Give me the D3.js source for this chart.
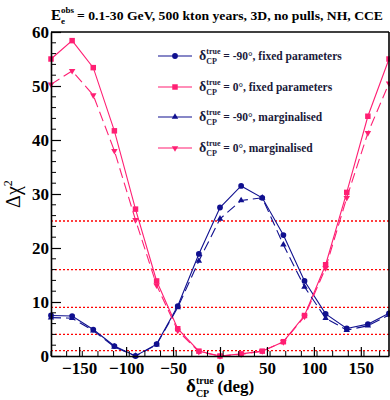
<!DOCTYPE html>
<html><head><meta charset="utf-8">
<script src="https://cdn.jsdelivr.net/npm/d3@7"></script>
<style>body{margin:0;background:#fff}svg{display:block}</style>
</head><body>
<svg id="c" width="390" height="400"></svg>
<script>
// ---- data ----
const deltaCP = [-180,-157.5,-135,-112.5,-90,-67.5,-45,-22.5,0,22.5,45,67.5,90,112.5,135,157.5,180];
const fixedM90 = [7.5,7.4,4.9,1.85,0,2.2,9.25,18.9,27.5,31.5,29.3,22.4,13.9,7.8,5.1,5.9,7.9];
const fixed0   = [55.0,58.4,53.4,41.7,27.2,13.9,5.05,0.9,0,0.4,0.9,2.65,7.5,16.9,30.3,44.4,55.0];
const margM90  = [7.1,7.0,4.7,1.7,0,2.1,9.0,17.6,25.4,28.8,29.3,20.6,12.8,7.0,4.8,5.6,7.6];
const marg0    = [50.3,52.8,48.3,38.0,25.2,13.1,4.7,0.8,0,0.3,0.9,2.6,7.3,16.3,29.3,41.3,50.5];
const sigmaLevels = [1,4,9,16,25];
const xTicks = [-150,-100,-50,0,50,100,150];
const yTicks = [0,10,20,30,40,50,60];
const legendLabels = ["= -90\u00B0, fixed parameters","= 0\u00B0, fixed parameters","= -90\u00B0, marginalised","= 0\u00B0, marginalised"];

const BLUE = "#10108f", PINK = "#ff1f73";
const series = [
  {vals: fixedM90, color: BLUE, dash: null, sym: d3.symbolCircle, size: 26, rot: 0},
  {vals: fixed0,   color: PINK, dash: null, sym: d3.symbolSquare, size: 30, rot: 0},
  {vals: margM90,  color: BLUE, dash: "10,5", sym: d3.symbolTriangle, size: 18, rot: 0},
  {vals: marg0,    color: PINK, dash: "10,5", sym: d3.symbolTriangle, size: 18, rot: 180}
];

const svg = d3.select("#c");
const L = 51, R = 389, T = 32, B = 356;
const x = d3.scaleLinear().domain([-180,180]).range([L,R]);
const y = d3.scaleLinear().domain([0,60]).range([B,T]);
const serif = "'Liberation Serif','Times New Roman',serif";

// sigma lines
svg.append("g").selectAll("line").data(sigmaLevels).join("line")
  .attr("x1", L).attr("x2", R).attr("y1", d=>y(d)).attr("y2", d=>y(d))
  .attr("stroke", "#ff0000").attr("stroke-width", 1.3).attr("stroke-dasharray", "2,2");

// series
const line = d3.line().x((d,i)=>x(deltaCP[i])).y(d=>y(d));
series.forEach(s => {
  svg.append("path").datum(s.vals).attr("d", line).attr("fill","none")
    .attr("stroke", s.color).attr("stroke-width", 1.1)
    .attr("stroke-dasharray", s.dash);
  svg.append("g").selectAll("path").data(s.vals).join("path")
    .attr("d", d3.symbol().type(s.sym).size(s.size))
    .attr("transform", (d,i)=>`translate(${x(deltaCP[i])},${y(d)}) rotate(${s.rot})`)
    .attr("fill", s.color);
});

// axes
const xAxis = d3.axisBottom(x).tickValues(xTicks).tickSizeInner(-9).tickSizeOuter(0).tickPadding(14)
  .tickFormat(d => d < 0 ? "\u2212" + Math.abs(d) : d);
const gx = svg.append("g").attr("transform", `translate(0,${B})`).call(xAxis);
gx.selectAll(".tick text").attr("y", 6).attr("dy", "0.71em");
const xMinor = d3.range(-180, 181, 50/3).filter(v => !xTicks.some(t => Math.abs(t - v) < 1e-6));
svg.append("g").selectAll("line").data(xMinor).join("line")
  .attr("x1", d=>x(d)).attr("x2", d=>x(d)).attr("y1", B).attr("y2", B-5)
  .attr("stroke", "#000").attr("stroke-width", 1);

const yAxis = d3.axisLeft(y).tickValues(yTicks).tickSizeInner(-10).tickSizeOuter(0).tickPadding(3);
const gy = svg.append("g").attr("transform", `translate(${L},0)`).call(yAxis);
gy.selectAll(".tick text").attr("x", -2);
const yMinor = d3.range(0, 61, 2).filter(v => v % 10 !== 0);
svg.append("g").selectAll("line").data(yMinor).join("line")
  .attr("x1", L).attr("x2", L+5).attr("y1", d=>y(d)).attr("y2", d=>y(d))
  .attr("stroke", "#000").attr("stroke-width", 1);

[gx, gy].forEach(g => {
  g.select(".domain").attr("stroke", "#000").attr("stroke-width", 1.6);
  g.selectAll(".tick line").attr("stroke", "#000").attr("stroke-width", 1.2);
  g.selectAll(".tick text").attr("font-family", serif).attr("font-weight", "bold")
    .attr("font-size", 17).attr("fill", "#000");
});
// frame top / right
svg.append("line").attr("x1", L).attr("x2", R).attr("y1", T).attr("y2", T).attr("stroke", "#000").attr("stroke-width", 1.6);
svg.append("line").attr("x1", R).attr("x2", R).attr("y1", T).attr("y2", B).attr("stroke", "#000").attr("stroke-width", 1.6);

// helper for delta_CP^true
function deltaLabel(g, x0, y0, big, small, color) {
  g.append("text").attr("x", x0).attr("y", y0).text("\u03B4")
    .attr("font-family", serif).attr("font-weight", "bold").attr("font-size", big).attr("fill", color);
  const w = big * 0.52;
  g.append("text").attr("x", x0 + w).attr("y", y0 - big*0.42).text("true")
    .attr("font-family", serif).attr("font-weight", "bold").attr("font-size", small).attr("fill", color);
  g.append("text").attr("x", x0 + w).attr("y", y0 + big*0.28).text("CP")
    .attr("font-family", serif).attr("font-weight", "bold").attr("font-size", small).attr("fill", color);
  return x0 + w + small * 1.75;
}

// legend
const lg = svg.append("g");
const legY = [56, 87, 117, 148];
series.forEach((s, i) => {
  const yy = legY[i];
  lg.append("line").attr("x1", 158).attr("x2", 192).attr("y1", yy).attr("y2", yy)
    .attr("stroke", s.color).attr("stroke-width", 1.2);
  lg.append("path").attr("d", d3.symbol().type(s.sym).size(s.size))
    .attr("transform", `translate(175,${yy}) rotate(${s.rot})`).attr("fill", s.color);
  const xe = deltaLabel(lg, 199, yy + 4, 14, 8, "#1a1a3a");
  lg.append("text").attr("x", xe + 3).attr("y", yy + 4).text(legendLabels[i])
    .attr("font-family", serif).attr("font-weight", "bold").attr("font-size", 11.5).attr("fill", "#1a1a3a");
});

// title
const tg = svg.append("g");
tg.append("text").attr("x", 51).attr("y", 20).text("E")
  .attr("font-family", serif).attr("font-weight", "bold").attr("font-size", 15);
tg.append("text").attr("x", 61).attr("y", 13).text("obs")
  .attr("font-family", serif).attr("font-weight", "bold").attr("font-size", 9);
tg.append("text").attr("x", 61).attr("y", 24).text("e")
  .attr("font-family", serif).attr("font-weight", "bold").attr("font-size", 9);
tg.append("text").attr("x", 77).attr("y", 20).text("= 0.1-30 GeV, 500 kton years, 3D, no pulls, NH, CCE")
  .attr("font-family", serif).attr("font-weight", "bold").attr("font-size", 13.5)
  .attr("textLength", 306).attr("lengthAdjust", "spacingAndGlyphs");

// axis labels
svg.append("text").attr("transform", "translate(20,194) rotate(-90)").attr("text-anchor", "middle")
  .attr("font-family", serif).attr("font-size", 20)
  .html('\u0394\u03C7<tspan dy="-8" font-size="12">2</tspan>');
const xl = svg.append("g");
const xe2 = deltaLabel(xl, 186, 392, 19, 10, "#000");
xl.append("text").attr("x", xe2 + 4).attr("y", 392).text("(deg)")
  .attr("font-family", serif).attr("font-weight", "bold").attr("font-size", 17);
</script>
</body></html>
